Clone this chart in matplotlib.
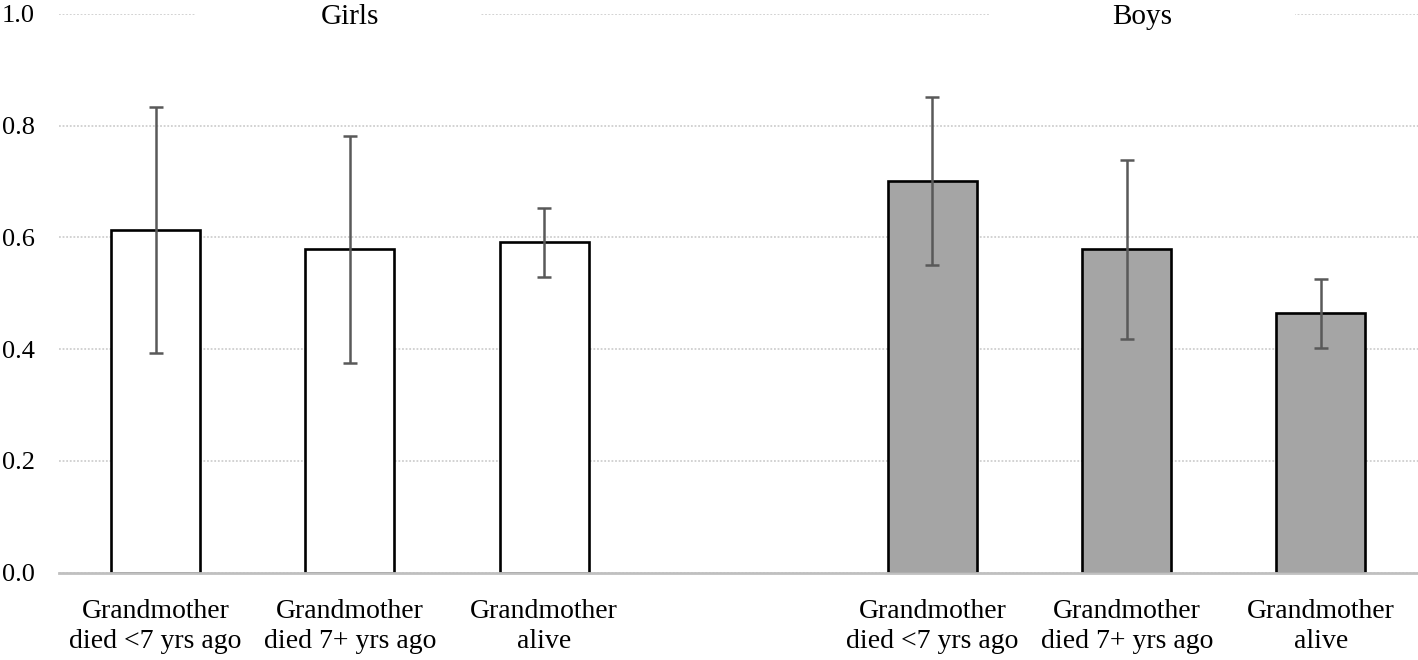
import matplotlib.pyplot as plt
from matplotlib.patches import Rectangle
import numpy as np

plt.rcParams['font.family'] = ['Liberation Serif', 'DejaVu Serif']

conditions = ['Grandmother\ndied <7 yrs ago', 'Grandmother\ndied 7+ yrs ago', 'Grandmother\nalive']
girls_mean = [0.613, 0.579, 0.591]
girls_err = [0.220, 0.203, 0.062]
boys_mean = [0.701, 0.579, 0.464]
boys_err = [0.150, 0.160, 0.062]

x_girls = np.arange(3)
x_boys = np.arange(3) + 4

fig = plt.figure(figsize=(14.18, 6.6), dpi=100)
ax = fig.add_axes([0.0413, 0.1323, 0.9587, 0.8465])

bw = 0.458
ax.bar(x_girls, girls_mean, width=bw, color='white', edgecolor='black', linewidth=1.9, zorder=2)
ax.bar(x_boys, boys_mean, width=bw, color='#a5a5a5', edgecolor='black', linewidth=1.9, zorder=2)
ax.errorbar(x_girls, girls_mean, yerr=girls_err, fmt='none', ecolor='#595959',
            elinewidth=1.8, capsize=5, capthick=1.8, zorder=3)
ax.errorbar(x_boys, boys_mean, yerr=boys_err, fmt='none', ecolor='#595959',
            elinewidth=1.8, capsize=5, capthick=1.8, zorder=3)

ax.set_xlim(-0.5, 6.5)
ax.set_ylim(0, 1.0)
ax.set_yticks(np.arange(0, 1.01, 0.2))
ax.set_yticklabels(['%.1f' % v for v in np.arange(0, 1.01, 0.2)])
ax.set_xticks(list(x_girls) + list(x_boys))
ax.set_xticklabels(conditions + conditions, linespacing=1.25)
ax.tick_params(axis='both', length=0)
ax.tick_params(axis='y', pad=17, labelsize=19)
ax.tick_params(axis='x', pad=19, labelsize=20)

for s in ax.spines.values():
    s.set_visible(False)
ax.yaxis.grid(True, color='#cfcfcf', linestyle=(0, (1, 1)), linewidth=1.3, zorder=0)
ax.set_axisbelow(True)
ax.axhline(0, color='#c0c0c0', linewidth=2.0, zorder=4, clip_on=False)

# group titles sitting on the top gridline
for xc, x0, x1, name in [(1, 0.203, 1.67, 'Girls'), (5.08, 4.295, 5.865, 'Boys')]:
    ax.add_patch(Rectangle((x0, 0.975), x1 - x0, 0.05, facecolor='white', edgecolor='none',
                           zorder=1, clip_on=False))
    ax.text(xc, 0.995, name, ha='center', va='center', fontsize=21, zorder=5)

fig.savefig('out.png', dpi=100)
